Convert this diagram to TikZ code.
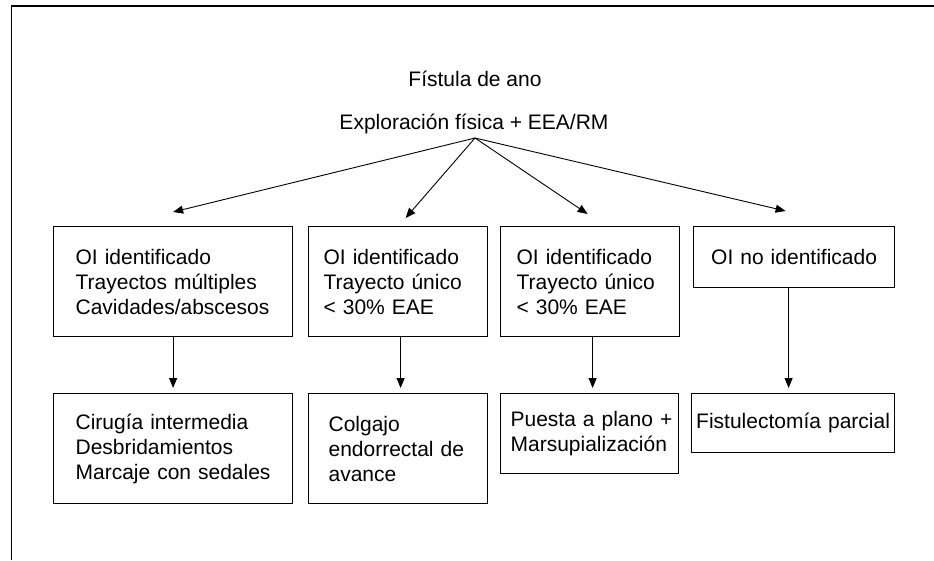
\documentclass[tikz,border=0pt]{standalone}
\usepackage{fontspec}
\setmainfont{Liberation Sans}
\usetikzlibrary{arrows.meta, positioning}
\tikzset{
    caja/.style={draw, line width=1.2pt, anchor=north west, align=left, inner ysep=0pt,
        font=\fontsize{21}{25}\selectfont},
    titulo/.style={anchor=base, inner sep=0pt, font=\fontsize{21}{25}\selectfont},
    flecha/.style={line width=0.9pt, -{Triangle[length=10pt,width=8pt]}}
}

\begin{document}
\begin{tikzpicture}[x=1pt, y=-1pt]
    \useasboundingbox (0,0) rectangle (934,560);
    % marco
    \draw[line width=1.3pt] (11.7,560) -- (11.7,6) -- (934,6);
    % titulos
    \node[titulo] (fistula) at (475,86) {Fístula de ano};
    \node[titulo] (explor) at (474,129) {Exploración física + EEA/RM};
    \coordinate (apex) at (475,138);
    % fila superior
    \node[caja, text width=195pt, inner xsep=22pt, minimum height=110pt] (c1) at (53,226)
        {OI identificado\\Trayectos múltiples\\Cavidades/abscesos};
    \node[caja, text width=149pt, inner xsep=15pt, minimum height=110pt] (c2) at (308,226)
        {OI identificado\\Trayecto único\\< 30\% EAE};
    \node[caja, text width=147pt, inner xsep=16pt, minimum height=110pt] (c3) at (500,226)
        {OI identificado\\Trayecto único\\< 30\% EAE};
    \node[caja, align=center, text width=181pt, inner xsep=10pt, minimum height=61pt] (c4) at (693,226)
        {OI no identificado};
    % fila inferior
    \node[caja, text width=195pt, inner xsep=22pt, minimum height=110pt] (d1) at (53,393)
        {Cirugía intermedia\\Desbridamientos\\Marcaje con sedales};
    \node[caja, text width=139pt, inner xsep=20pt, minimum height=110pt] (d2) at (308,393)
        {Colgajo\\endorrectal de\\avance};
    \node[caja, text width=158pt, inner xsep=10pt, minimum height=80pt] (d3) at (500,393)
        {\mbox{Puesta a plano +}\\\mbox{Marsupialización}};
    \node[caja, align=center, text width=195pt, inner xsep=4pt, minimum height=59pt] (d4) at (691,393)
        {Fistulectomía parcial};
    % flechas
    \draw[flecha] (apex) -- ([yshift=14pt]c1.north);
    \draw[flecha] (apex) -- ([xshift=7.5pt, yshift=8pt]c2.north);
    \draw[flecha] (apex) -- ([xshift=-2.5pt, yshift=12pt]c3.north);
    \draw[flecha] (apex) -- ([xshift=-8.5pt, yshift=15pt]c4.north);
    \draw[flecha] (c1.south) -- ([yshift=5pt]d1.north);
    \draw[flecha] ([xshift=2.5pt]c2.south) -- ([xshift=2.5pt, yshift=5pt]d2.north);
    \draw[flecha] ([xshift=2.5pt]c3.south) -- ([xshift=3pt, yshift=5pt]d3.north);
    \draw[flecha] ([xshift=-5.5pt]c4.south) -- ([xshift=-4.5pt, yshift=5pt]d4.north);
\end{tikzpicture}
\end{document}
